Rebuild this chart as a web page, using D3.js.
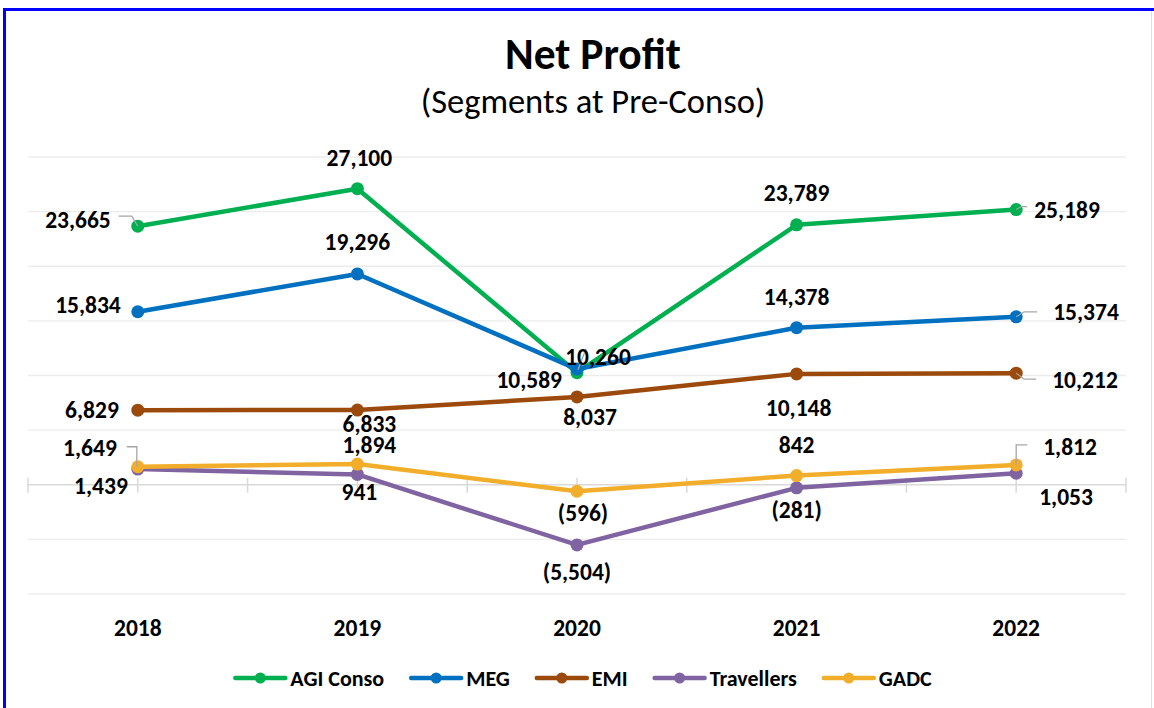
<!DOCTYPE html>
<html>
<head>
<meta charset="utf-8">
<script src="https://cdn.jsdelivr.net/npm/d3@7"></script>
<style>
  body { margin: 0; background: #fff; }
  svg { display: block; font-family: Calibri, Carlito, "Open Sans", Lato, sans-serif; }
</style>
</head>
<body>
<div id="chart"></div>
<script>
// data
var years = ["2018", "2019", "2020", "2021", "2022"];
var seriesNames = ["AGI Conso", "MEG", "EMI", "Travellers", "GADC"];
var agiConso = [23665, 27100, 10260, 23789, 25189];
var meg = [15834, 19296, 10589, 14378, 15374];
var emi = [6829, 6833, 8037, 10148, 10212];
var travellers = [1439, 941, -5504, -281, 1053];
var gadc = [1649, 1894, -596, 842, 1812];
var yTicks = [-10000, -5000, 0, 5000, 10000, 15000, 20000, 25000, 30000];

var colors = ["#00B050", "#0070C0", "#9C4A0B", "#8064A2", "#F2AE2A"];

// label placement: [dx, dy, anchor] relative to the point
var labelPos = [
    [[-27, -6, "end"], [2, -31, "middle"], [21, -16, "middle"], [0, -32, "middle"], [18, 0, "start"]],
    [[-17, -7, "end"], [0, -32, "middle"], [-15, 11, "end"], [0, -31, "middle"], [37, -5, "start"]],
    [[-19, 0, "end"], [12, 14, "middle"], [13, 20, "middle"], [2, 34, "middle"], [36, 7, "start"]],
    [[-10, 17, "end"], [2, 18, "middle"], [0, 27, "middle"], [0, 22, "middle"], [23, 24, "start"]],
    [[-21, -19, "end"], [12, -19, "middle"], [6, 22, "middle"], [0, -31, "middle"], [27, -18, "start"]]
];
// leader lines (relative to point), null = none
var leaders = [
    [[[0, 0], [-6, -10], [-19, -10]], null, [[1, -3], [9, -24]], null, [[0, 0], [5, -3], [11, -3]]],
    [null, null, null, null, [[0, 0], [8, -5], [21, -5]]],
    [null, null, null, null, [[0, 0], [8, 6], [20, 6]]],
    [null, null, null, null, null],
    [[[-1, 0], [-1, -20], [-11, -20]], null, null, null, [[0, 0], [0, -20], [11, -20]]]
];

var allSeries = [agiConso, meg, emi, travellers, gadc];

var W = 1154, H = 708;
var svg = d3.select("#chart").append("svg")
    .attr("width", W)
    .attr("height", H);

svg.append("rect")
    .attr("x", 0).attr("y", 0).attr("width", W).attr("height", H)
    .attr("fill", "#fff");

var x = d3.scaleBand()
    .domain(years)
    .range([28, 1126]);

var y = d3.scaleLinear()
    .domain([-10000, 30000])
    .range([594, 157]);

// gridlines
svg.append("g")
    .selectAll("line")
    .data(yTicks.filter(function(d) { return d != 0; }))
    .enter()
    .append("line")
    .attr("x1", 28).attr("x2", 1126)
    .attr("y1", function(d) { return y(d); })
    .attr("y2", function(d) { return y(d); })
    .attr("stroke", "#ececec")
    .attr("stroke-width", 1.3);

// zero axis with ticks at every half band
var xAxisG = svg.append("g")
    .attr("transform", "translate(0," + y(0) + ")");
xAxisG.append("line")
    .attr("x1", 28).attr("x2", 1126)
    .attr("stroke", "#d9d9d9").attr("stroke-width", 1.5);
var tickXs = [];
years.forEach(function(d) { tickXs.push(x(d)); tickXs.push(x(d) + x.bandwidth() / 2); });
tickXs.push(1126);
xAxisG.selectAll(".tk")
    .data(tickXs)
    .enter()
    .append("line")
    .attr("class", "tk")
    .attr("x1", function(d) { return d; })
    .attr("x2", function(d) { return d; })
    .attr("y1", -7).attr("y2", 8)
    .attr("stroke", "#d9d9d9").attr("stroke-width", 1.5);

// category labels
svg.append("g")
    .selectAll("text")
    .data(years)
    .enter()
    .append("text")
    .attr("x", function(d) { return x(d) + x.bandwidth() / 2; })
    .attr("y", 628)
    .attr("text-anchor", "middle")
    .attr("dominant-baseline", "central")
    .attr("font-size", 23.5)
    .attr("font-weight", "bold")
    .text(function(d) { return d; });

var cx = function(i) { return x(years[i]) + x.bandwidth() / 2; };

var line = d3.line()
    .x(function(d, i) { return cx(i); })
    .y(function(d) { return y(d); });

// series
allSeries.forEach(function(vals, s) {
    var g = svg.append("g");
    g.append("path")
        .datum(vals)
        .attr("d", line)
        .attr("fill", "none")
        .attr("stroke", colors[s])
        .attr("stroke-width", 4.5)
        .attr("stroke-linejoin", "round");
    g.selectAll("circle")
        .data(vals)
        .enter()
        .append("circle")
        .attr("cx", function(d, i) { return cx(i); })
        .attr("cy", function(d) { return y(d); })
        .attr("r", 6.5)
        .attr("fill", colors[s]);
});

var fmt = function(v) {
    var t = d3.format(",")(Math.abs(v));
    return v < 0 ? "(" + t + ")" : t;
};

// leaders + labels
allSeries.forEach(function(vals, s) {
    vals.forEach(function(v, i) {
        var px = cx(i), py = y(v);
        var ld = leaders[s][i];
        if (ld) {
            svg.append("polyline")
                .attr("points", ld.map(function(p) { return (px + p[0]) + "," + (py + p[1]); }).join(" "))
                .attr("fill", "none")
                .attr("stroke", "#a6a6a6")
                .attr("stroke-width", 1.3);
        }
        var lp = labelPos[s][i];
        svg.append("text")
            .attr("x", px + lp[0])
            .attr("y", py + lp[1])
            .attr("text-anchor", lp[2])
            .attr("dominant-baseline", "central")
            .attr("font-size", 23.5)
            .attr("font-weight", "bold")
            .attr("fill", "#000")
            .text(fmt(v));
    });
});

// titles
svg.append("text")
    .attr("x", 593).attr("y", 69)
    .attr("text-anchor", "middle")
    .attr("font-size", 43.5)
    .attr("font-weight", "bold")
    .text("Net Profit");
svg.append("text")
    .attr("x", 593).attr("y", 113)
    .attr("text-anchor", "middle")
    .attr("font-size", 34.5)
    .text("(Segments at Pre-Conso)");

// legend
var legend = svg.append("g");
var lx = 0;
seriesNames.forEach(function(name, s) {
    var item = legend.append("g").attr("transform", "translate(" + lx + ",0)");
    item.append("line")
        .attr("x1", 0).attr("x2", 50)
        .attr("stroke", colors[s]).attr("stroke-width", 4.5)
        .attr("stroke-linecap", "round");
    item.append("circle")
        .attr("cx", 25).attr("r", 5.5).attr("fill", colors[s]);
    var t = item.append("text")
        .attr("x", 55)
        .attr("dominant-baseline", "central")
        .attr("font-size", 22)
        .attr("font-weight", "bold")
        .text(name);
    lx += 55 + t.node().getComputedTextLength() + 27;
});
lx -= 27;
legend.attr("transform", "translate(" + (583.5 - lx / 2) + ",678)");

// frame
svg.append("rect")
    .attr("x", 4.5).attr("y", 9.5)
    .attr("width", 1180).attr("height", 720)
    .attr("fill", "none")
    .attr("stroke", "#0000FF")
    .attr("stroke-width", 3);
svg.append("line")
    .attr("x1", 1151.5).attr("x2", 1151.5)
    .attr("y1", 11).attr("y2", H)
    .attr("stroke", "#dcdcf6").attr("stroke-width", 1);
</script>
</body>
</html>
